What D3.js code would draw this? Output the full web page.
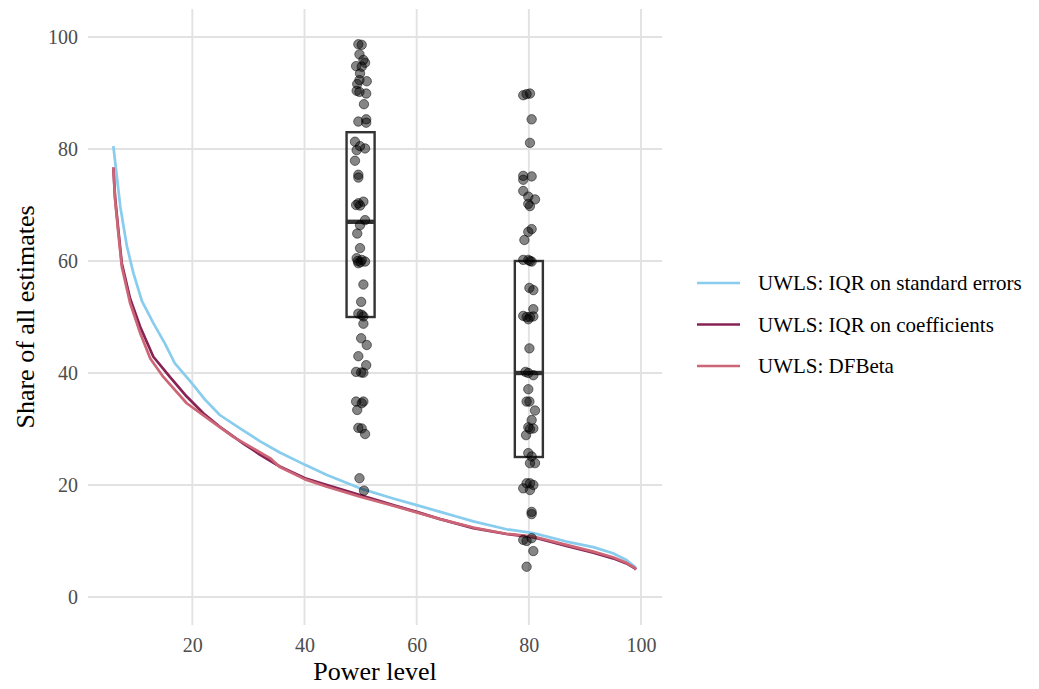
<!DOCTYPE html>
<html>
<head>
<meta charset="utf-8">
<script src="https://cdn.jsdelivr.net/npm/d3@7"></script>
<style>
  html, body { margin: 0; padding: 0; background: #ffffff; }
  svg { display: block; }
  text { font-family: "Liberation Serif", "DejaVu Serif", serif; }
</style>
</head>
<body>
<svg id="chart" width="1039" height="689"></svg>
<script>
// Cumulative share curves: [power level, share of estimates]
const seriesNames = ["UWLS: IQR on standard errors", "UWLS: IQR on coefficients", "UWLS: DFBeta"];
const seriesColors = ["#88CCEE", "#882255", "#CC6677"];

const uwlsSE = [
  [5.92, 80.5], [7.16, 69.7], [8.34, 62.6], [9.51, 57.8], [11.0, 52.9], [13.05, 48.9],
  [15.1, 45.3], [16.9, 41.7], [19.9, 38.2], [22.3, 35.2], [24.9, 32.5], [28.5, 30.1],
  [32.1, 27.8], [35.6, 25.8], [40.1, 23.6], [44.0, 21.8], [49.9, 19.4], [55.8, 17.6],
  [60.0, 16.4], [64.2, 15.2], [67.7, 14.2], [70.1, 13.5], [76.0, 12.1], [80.8, 11.4],
  [86.7, 9.9], [91.5, 8.9], [95.0, 7.8], [97.4, 6.6], [98.9, 5.4], [99.1, 5.1]
];
const uwlsCoef = [
  [5.92, 76.7], [6.22, 71.5], [6.81, 65.5], [7.42, 59.6], [8.9, 53.3], [10.68, 48.3],
  [13.05, 42.9], [16.0, 39.3], [19.0, 35.8], [21.96, 32.8], [24.9, 30.4], [29.1, 27.4],
  [32.1, 25.4], [35.6, 23.3], [40.1, 21.2], [44.0, 20.0], [49.9, 18.2], [55.8, 16.4],
  [60.0, 15.2], [64.2, 13.9], [70.1, 12.3], [76.0, 11.25], [80.8, 10.66], [86.7, 9.1],
  [91.5, 7.9], [95.0, 6.9], [97.4, 6.0], [98.9, 5.1], [99.1, 4.9]
];
const uwlsDFBeta = [
  [5.92, 76.7], [6.22, 71.0], [6.81, 65.0], [7.42, 59.0], [8.9, 52.5], [10.68, 47.2],
  [12.5, 42.6], [14.83, 39.3], [19.0, 34.6], [23.15, 31.6], [27.3, 28.6], [33.85, 24.8],
  [35.6, 23.2], [40.1, 21.0], [44.0, 19.7], [49.9, 17.9], [55.8, 16.3], [60.0, 15.1],
  [64.2, 13.9], [70.1, 12.4], [76.0, 11.3], [80.8, 10.8], [86.7, 9.3], [91.5, 8.1],
  [95.0, 7.1], [97.4, 6.1], [98.9, 5.2], [99.1, 4.9]
];
const seriesData = [uwlsSE, uwlsCoef, uwlsDFBeta];

// Individual estimates at power levels 50 and 80: [jittered power, share]
const pointsAt50 = [
  [49.6, 98.7], [50.2, 98.6], [49.8, 96.9], [50.5, 95.9], [50.8, 95.4], [49.2, 94.8],
  [50.2, 94.7], [49.9, 93.5], [49.8, 92.3], [51.1, 92.1], [49.4, 91.6], [49.3, 90.4],
  [49.8, 90.2], [51.0, 89.9], [50.6, 88.0], [51.0, 85.3], [49.6, 84.9], [51.0, 84.7],
  [49.0, 81.3], [49.9, 80.5], [50.8, 80.1], [49.3, 79.8], [49.0, 77.9], [49.6, 75.4],
  [49.6, 74.9], [50.5, 70.6], [49.6, 70.3], [49.2, 70.0], [49.9, 69.9], [50.8, 67.3],
  [49.9, 66.4], [49.4, 64.9], [49.9, 62.3], [49.3, 60.5], [50.2, 60.2], [50.8, 59.9],
  [49.6, 59.6], [49.5, 60.0], [50.0, 59.8], [50.5, 55.8], [50.1, 52.7], [49.6, 50.6],
  [50.2, 50.4], [50.5, 50.1], [50.5, 48.8], [50.1, 46.2], [51.1, 45.0], [49.6, 43.0],
  [51.0, 41.4], [49.2, 40.2], [50.5, 40.05], [50.1, 40.1], [49.2, 34.9], [50.5, 34.9],
  [49.4, 33.4], [50.2, 34.6], [49.6, 30.2], [50.2, 30.1], [50.8, 29.1], [49.8, 21.2],
  [50.6, 19.0]
];
const pointsAt80 = [
  [79.6, 89.8], [80.2, 89.9], [79.0, 89.6], [80.5, 85.3], [80.2, 81.1], [79.0, 75.2],
  [80.5, 75.1], [79.0, 74.5], [79.0, 72.5], [79.9, 71.5], [81.1, 71.0], [79.9, 70.2],
  [80.2, 69.8], [80.5, 65.7], [79.9, 65.2], [79.2, 63.75], [79.0, 60.2], [79.9, 60.2],
  [80.5, 59.9], [80.2, 60.0], [80.1, 55.2], [80.8, 54.8], [80.8, 51.4], [79.0, 50.2],
  [79.6, 50.0], [80.2, 50.0], [80.8, 50.1], [79.9, 49.6], [80.1, 44.4], [79.4, 40.2],
  [80.8, 39.6], [79.9, 40.0], [79.9, 37.1], [79.6, 34.9], [80.1, 34.9], [81.1, 33.3],
  [80.5, 31.6], [79.9, 30.3], [80.8, 30.1], [79.5, 28.9], [80.2, 30.0], [79.9, 25.7],
  [80.5, 25.1], [81.1, 23.9], [80.2, 23.9], [79.6, 20.3], [80.2, 20.3], [80.8, 20.0],
  [79.0, 19.4], [80.2, 19.1], [80.5, 15.2], [80.5, 14.8], [79.0, 10.2], [79.6, 10.0],
  [80.5, 10.5], [80.8, 8.2], [79.6, 5.4]
];

// Box summaries: centre, lower quartile, median, upper quartile
const boxCentres = [50, 80];
const boxLower = [50, 25];
const boxMedian = [67, 40];
const boxUpper = [83, 60];
const boxWidth = 5;

const xTicks = [20, 40, 60, 80, 100];
const yTicks = [0, 20, 40, 60, 80, 100];

const svg = d3.select("#chart");
const panel = { left: 88, right: 662, top: 9, bottom: 625 };

const x = d3.scaleLinear().domain([1.4, 103.74]).range([panel.left, panel.right]);
const y = d3.scaleLinear().domain([-5, 105]).range([panel.bottom, panel.top]);

// Grid
const grid = svg.append("g").attr("class", "grid");
grid.selectAll("line.h").data(yTicks).join("line")
  .attr("class", "h")
  .attr("x1", panel.left).attr("x2", panel.right)
  .attr("y1", d => y(d)).attr("y2", d => y(d))
  .attr("stroke", "#e2e2e2").attr("stroke-width", 1.9);
grid.selectAll("line.v").data(xTicks).join("line")
  .attr("class", "v")
  .attr("y1", panel.top).attr("y2", panel.bottom)
  .attr("x1", d => x(d)).attr("x2", d => x(d))
  .attr("stroke", "#e2e2e2").attr("stroke-width", 1.9);

// Axes (labels only, no domain lines or tick marks)
const xAxis = svg.append("g")
  .attr("transform", `translate(0,${panel.bottom})`)
  .call(d3.axisBottom(x).tickValues(xTicks).tickSize(0).tickPadding(13));
const yAxis = svg.append("g")
  .attr("transform", `translate(${panel.left},0)`)
  .call(d3.axisLeft(y).tickValues(yTicks).tickSize(0).tickPadding(10));
[xAxis, yAxis].forEach(g => {
  g.attr("font-family", null).attr("font-size", null);
  g.select(".domain").remove();
  g.selectAll("text")
    .attr("fill", "#4d4d4d")
    .style("font-family", '"Liberation Serif", "DejaVu Serif", serif')
    .style("font-size", "20px");
});

// Boxes
const boxes = svg.append("g").attr("class", "boxes");
boxCentres.forEach((c, i) => {
  boxes.append("rect")
    .attr("x", x(c - boxWidth / 2))
    .attr("width", x(c + boxWidth / 2) - x(c - boxWidth / 2))
    .attr("y", y(boxUpper[i]))
    .attr("height", y(boxLower[i]) - y(boxUpper[i]))
    .attr("fill", "none").attr("stroke", "#333333").attr("stroke-width", 2.4);
  boxes.append("line")
    .attr("x1", x(c - boxWidth / 2)).attr("x2", x(c + boxWidth / 2))
    .attr("y1", y(boxMedian[i])).attr("y2", y(boxMedian[i]))
    .attr("stroke", "#333333").attr("stroke-width", 4.4);
});

// Curves
const line = d3.line().x(d => x(d[0])).y(d => y(d[1]));
const curves = svg.append("g").attr("class", "curves");
seriesData.forEach((s, i) => {
  curves.append("path")
    .datum(s)
    .attr("d", line)
    .attr("fill", "none")
    .attr("stroke", seriesColors[i])
    .attr("stroke-width", 2.7)
    .attr("stroke-linejoin", "round")
    .attr("stroke-linecap", "butt");
});

// Points
const pts = svg.append("g").attr("class", "points");
pts.selectAll("circle").data(pointsAt50.concat(pointsAt80)).join("circle")
  .attr("cx", d => x(d[0]))
  .attr("cy", d => y(d[1]))
  .attr("r", 4.7)
  .attr("fill", "rgba(0,0,0,0.48)")
  .attr("stroke", "rgba(0,0,0,0.5)")
  .attr("stroke-width", 1);

// Axis titles
svg.append("text")
  .attr("x", (panel.left + panel.right) / 2).attr("y", 680)
  .attr("text-anchor", "middle")
  .style("font-size", "26px").attr("fill", "#000")
  .text("Power level");
svg.append("text")
  .attr("transform", `translate(34,${(panel.top + panel.bottom) / 2}) rotate(-90)`)
  .attr("text-anchor", "middle")
  .style("font-size", "26px").attr("fill", "#000")
  .text("Share of all estimates");

// Legend
const legendY = [283, 324.5, 366];
const legend = svg.append("g").attr("class", "legend");
seriesNames.forEach((name, i) => {
  legend.append("line")
    .attr("x1", 697).attr("x2", 740)
    .attr("y1", legendY[i]).attr("y2", legendY[i])
    .attr("stroke", seriesColors[i]).attr("stroke-width", 2.7);
  legend.append("text")
    .attr("x", 758).attr("y", legendY[i])
    .attr("dy", "0.35em")
    .style("font-size", "21px").attr("fill", "#000")
    .text(name);
});
</script>
</body>
</html>
